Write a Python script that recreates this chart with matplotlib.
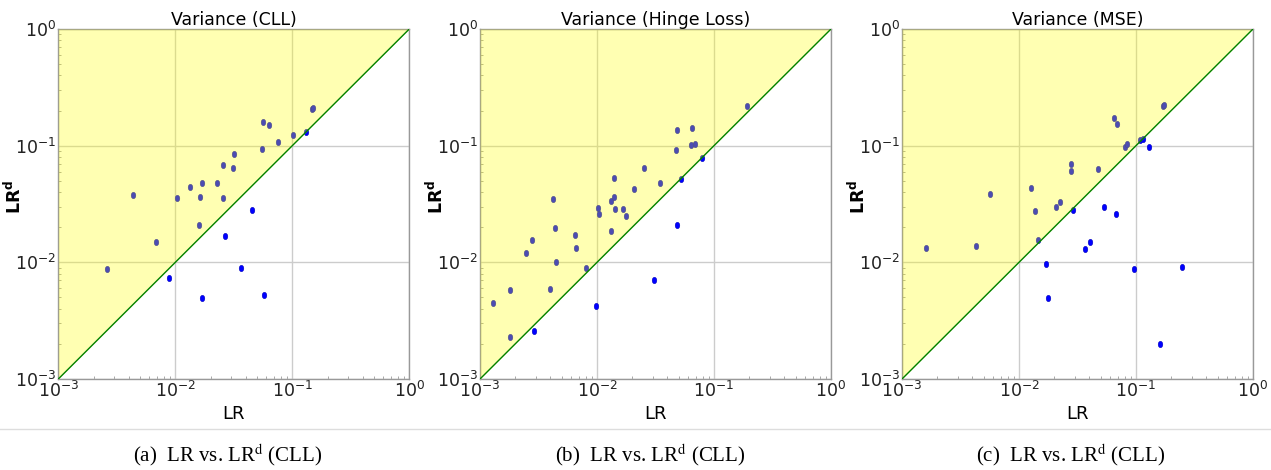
import matplotlib
matplotlib.use("Agg")
import matplotlib.pyplot as plt
import numpy as np
from matplotlib.path import Path
from matplotlib.transforms import Affine2D
from matplotlib.ticker import FixedLocator, FuncFormatter, LogLocator, NullFormatter

# ---------------- data ----------------
titles = ["Variance (CLL)", "Variance (Hinge Loss)", "Variance (MSE)"]
captions = ["(a)", "(b)", "(c)"]

lr_cll = [0.00259, 0.00438, 0.00689, 0.01033, 0.01342, 0.0168, 0.01636, 0.0159,
          0.02255, 0.0257, 0.0257, 0.0309, 0.0315, 0.0551, 0.0558, 0.0628, 0.0750,
          0.1014, 0.147, 0.150, 0.131, 0.00883, 0.0168, 0.0264, 0.0362, 0.0455, 0.0576]
lrd_cll = [0.00873, 0.0381, 0.01496, 0.0355, 0.0444, 0.0483, 0.0364, 0.0207,
           0.0478, 0.0686, 0.0355, 0.0646, 0.0846, 0.094, 0.160, 0.150, 0.107,
           0.123, 0.208, 0.212, 0.130, 0.00727, 0.00499, 0.01676, 0.00902, 0.0280, 0.00526]

lr_hinge = [0.00129, 0.00179, 0.00179, 0.00249, 0.00278, 0.00418, 0.00440, 0.00449,
            0.00399, 0.00649, 0.00657, 0.00811, 0.01014, 0.01033, 0.01309, 0.01387,
            0.01406, 0.01435, 0.01327, 0.0168, 0.0178, 0.0207, 0.0254, 0.0345, 0.0470,
            0.0480, 0.0649, 0.0632, 0.0684, 0.191, 0.0522, 0.0788, 0.0029, 0.0098,
            0.0305, 0.0480]
lrd_hinge = [0.00449, 0.00577, 0.00229, 0.01213, 0.01568, 0.0350, 0.0195, 0.01002,
             0.00588, 0.01706, 0.01339, 0.00889, 0.0291, 0.0262, 0.0337, 0.0533,
             0.0366, 0.0287, 0.0184, 0.0289, 0.0250, 0.0424, 0.0641, 0.0481, 0.0923,
             0.137, 0.143, 0.102, 0.1026, 0.217, 0.0517, 0.0777, 0.00258, 0.00421,
             0.00707, 0.0209]

lr_mse = [0.00161, 0.00430, 0.00563, 0.01276, 0.0138, 0.01455, 0.0208, 0.0225,
          0.0277, 0.0278, 0.0288, 0.0476, 0.0643, 0.0691, 0.0804, 0.0836, 0.108,
          0.114, 0.170, 0.174, 0.01714, 0.0178, 0.0366, 0.0407, 0.0528, 0.0673,
          0.0966, 0.130, 0.159, 0.249]
lrd_mse = [0.01339, 0.01375, 0.0384, 0.0432, 0.0276, 0.01548, 0.0297, 0.0332,
           0.0703, 0.0608, 0.0282, 0.0630, 0.171, 0.154, 0.097, 0.1037, 0.112,
           0.113, 0.220, 0.223, 0.0097, 0.00499, 0.01294, 0.01507, 0.0301, 0.0262,
           0.00883, 0.097, 0.00200, 0.00914]

series = [(lr_cll, lrd_cll), (lr_hinge, lrd_hinge), (lr_mse, lrd_mse)]
decades = [1e-3, 1e-2, 1e-1, 1e0]

# ---------------- style ----------------
plt.rcParams["font.family"] = ["DejaVu Sans"]
plt.rcParams["mathtext.fontset"] = "dejavusans"

fig = plt.figure(figsize=(12.71, 4.70), dpi=100)
W, H = 1271.0, 470.0
lefts = [58.3, 480.0, 902.0]
cap_x = [228.0, 650.0, 1071.0]

ellipse = Path.unit_circle().transformed(Affine2D().scale(0.72, 1.0))


def fmt(v, pos):
    e = int(round(np.log10(v)))
    return r"$\mathregular{10^{%d}}$" % e


for i, (lx, ly) in enumerate(series):
    ax = fig.add_axes([lefts[i] / W, 91.0 / H, 351.0 / W, 350.0 / H])
    ax.set_xscale("log")
    ax.set_yscale("log")
    ax.set_xlim(1e-3, 1e0)
    ax.set_ylim(1e-3, 1e0)

    ax.scatter(lx, ly, s=22, marker=ellipse, c="blue", edgecolors="#0000aa",
               linewidths=0.3, zorder=2)
    diag = np.array(decades)
    ax.fill_between(diag, diag, np.ones_like(diag), color="yellow", alpha=0.3,
                    linewidth=0, zorder=3)
    ax.plot(diag, diag, color="green", linewidth=1.0, zorder=4)

    ax.grid(True, which="major", color="#cccccc", linewidth=1.0, zorder=1)
    ax.set_axisbelow(True)

    for a in (ax.xaxis, ax.yaxis):
        a.set_major_locator(FixedLocator(decades))
        a.set_major_formatter(FuncFormatter(fmt))
        a.set_minor_locator(LogLocator(base=10, subs=np.arange(2, 10), numticks=20))
        a.set_minor_formatter(NullFormatter())
    ax.tick_params(which="major", length=0, pad=1.5, labelsize=12.5, colors="#222222")
    ax.tick_params(which="minor", length=2, width=0.6, direction="in", color="#999999")
    for sp in ax.spines.values():
        sp.set_color("#999999")
        sp.set_linewidth(1.0)

    ax.set_title(titles[i], fontsize=12.5, pad=3)
    ax.set_xlabel("LR", fontsize=13, labelpad=3)
    ax.set_ylabel(r"$\mathbf{LR}^{\mathbf{d}}$", fontsize=12.5)
    ax.yaxis.set_label_coords(-0.095, 0.52)

    fig.text(cap_x[i] / W, 1 - 455.0 / H,
             captions[i] + r"  LR vs. LR$^{\mathrm{d}}$ (CLL)",
             family="Liberation Serif", math_fontfamily="stix", fontsize=15,
             ha="center", va="center")

fig.add_artist(plt.Line2D([0, 1], [1 - 429.0 / H] * 2, color="#dddddd",
                          linewidth=1.0, transform=fig.transFigure))

fig.savefig("out.png", dpi=100)
